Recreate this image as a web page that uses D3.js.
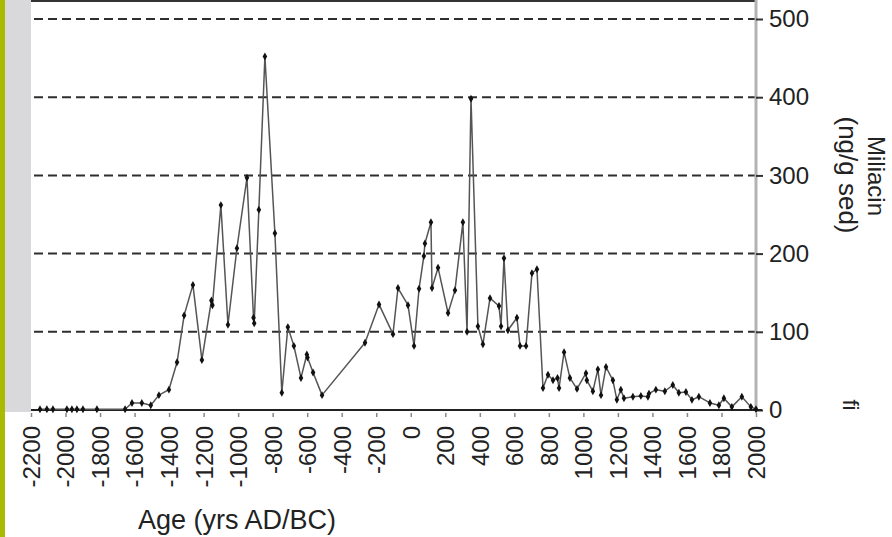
<!DOCTYPE html>
<html>
<head>
<meta charset="utf-8">
<script src="https://cdn.jsdelivr.net/npm/d3@7"></script>
<style>
  body { margin: 0; background: #fff; }
  svg { display: block; font-family: 'Liberation Sans', Arial, sans-serif; }
</style>
</head>
<body>
<div id="chart"></div>
<script>
// Miliacin concentration by age
const years = [
  -2148, -2108, -2073, -1992, -1963, -1934, -1899, -1818, -1655, -1615,
  -1558, -1506, -1459, -1401, -1354, -1313, -1262, -1210, -1155, -1149,
  -1100, -1059, -1007, -949, -911, -907, -880, -845, -787, -747,
  -712, -677, -636, -602, -598, -566, -514, -265, -184, -103,
  -74, -16, 19, 48, 76, 82, 117, 123, 158, 216,
  256, 302, 326, 349, 389, 418, 459, 511, 523, 540,
  563, 615, 633, 668, 702, 731, 766, 795, 824, 850,
  859, 888, 922, 963, 1015, 1020, 1055, 1084, 1102, 1131,
  1171, 1194, 1217, 1235, 1287, 1333, 1374, 1380, 1420, 1472,
  1518, 1553, 1594, 1629, 1669, 1733, 1785, 1814, 1860, 1918,
  1970, 2000
];
const miliacin = [
  1, 1, 1, 1, 1, 1, 1, 1, 1, 9,
  9, 6, 19, 26, 61, 121, 160, 64, 140, 134,
  262, 109, 207, 297, 118, 111, 256, 452, 226, 22,
  106, 82, 41, 71, 67, 48, 19, 86, 135, 97,
  156, 134, 82, 155, 197, 213, 240, 156, 182, 124,
  153, 240, 100, 398, 107, 84, 143, 133, 107, 194,
  102, 118, 82, 82, 175, 180, 28, 45, 38, 41,
  28, 74, 41, 27, 47, 38, 24, 52, 19, 55,
  38, 13, 26, 15, 17, 18, 17, 21, 26, 24,
  32, 22, 23, 13, 17, 9, 6, 15, 4, 17,
  4, 1
];
const xTicks = d3.range(-2200, 2001, 200);
const yTicks = [0, 100, 200, 300, 400, 500];

const W = 892;
const H = 537;
const plot = { l: 31, r: 756, t: 19, b: 410 };

const scaleX = d3.scaleLinear().domain([-2200, 2000]).range([plot.l, plot.r]);
const scaleY = d3.scaleLinear().domain([0, 500]).range([plot.b, plot.t]);

const svg = d3.select('#chart')
  .append('svg')
  .attr('width', W)
  .attr('height', H);

// side strips
svg.append('rect')
  .attr('x', 0).attr('y', 0)
  .attr('width', 5).attr('height', H)
  .attr('fill', '#a9ba00');

svg.append('rect')
  .attr('x', 5).attr('y', 0)
  .attr('width', plot.l - 5).attr('height', plot.b + 2)
  .attr('fill', '#d9d9db');

// top frame
svg.append('line')
  .attr('x1', plot.l).attr('x2', plot.r)
  .attr('y1', 1).attr('y2', 1)
  .attr('stroke', '#333')
  .attr('stroke-width', 2);

// dashed grid lines
svg.append('g')
  .selectAll('line')
  .data(yTicks.filter(d => d > 0))
  .join('line')
  .attr('x1', plot.l + 3)
  .attr('x2', plot.r)
  .attr('y1', d => scaleY(d))
  .attr('y2', d => scaleY(d))
  .attr('stroke', '#2e2e2e')
  .attr('stroke-width', 2)
  .attr('stroke-dasharray', '9,5');

// right axis
const yAxis = d3.axisRight(scaleY)
  .tickValues(yTicks)
  .tickSize(7)
  .tickPadding(6);

const yAxisG = svg.append('g')
  .attr('transform', `translate(${plot.r}, 0)`)
  .call(yAxis);

yAxisG.select('.domain')
  .attr('d', `M0,0V${plot.b}`)
  .attr('stroke', '#b3b3b3')
  .attr('stroke-width', 3);

yAxisG.selectAll('.tick line')
  .attr('stroke', '#333')
  .attr('stroke-width', 2);

yAxisG.selectAll('.tick text')
  .attr('fill', '#222')
  .style('font-size', '24px')
  .style('font-family', "'Liberation Sans', Arial, sans-serif");

// bottom axis
const xAxis = d3.axisBottom(scaleX)
  .tickValues(xTicks)
  .tickSize(6)
  .tickFormat(d3.format('d'));

const xAxisG = svg.append('g')
  .attr('transform', `translate(0, ${plot.b})`)
  .call(xAxis);

xAxisG.select('.domain')
  .attr('d', `M${plot.l},0H${plot.r + 6}`)
  .attr('stroke', '#222')
  .attr('stroke-width', 2);

xAxisG.selectAll('.tick line')
  .attr('y1', 3)
  .attr('y2', 7)
  .attr('stroke', '#888')
  .attr('stroke-width', 1.5);

xAxisG.selectAll('.tick text')
  .attr('fill', '#222')
  .attr('text-anchor', 'end')
  .attr('transform', 'rotate(-90)')
  .attr('x', -16)
  .attr('y', 0)
  .attr('dy', '0.35em')
  .style('font-size', '24px')
  .style('font-family', "'Liberation Sans', Arial, sans-serif")
  .text(d => d3.format('d')(d).replace('\u2212', '-'));

// series
const line = d3.line()
  .x((d, i) => scaleX(years[i]))
  .y(d => scaleY(d));

svg.append('path')
  .datum(miliacin)
  .attr('fill', 'none')
  .attr('stroke', '#555')
  .attr('stroke-width', 1.5)
  .attr('stroke-linejoin', 'round')
  .attr('d', line);

const marker = d3.symbol().type(d3.symbolDiamond).size(18);

svg.append('g')
  .selectAll('path')
  .data(miliacin)
  .join('path')
  .attr('transform', (d, i) => `translate(${scaleX(years[i])}, ${scaleY(d)})`)
  .attr('d', marker)
  .attr('fill', '#111');

// titles
svg.append('text')
  .attr('x', 237)
  .attr('y', 529)
  .attr('text-anchor', 'middle')
  .attr('fill', '#222')
  .style('font-size', '27px')
  .text('Age (yrs AD/BC)');

svg.append('text')
  .attr('transform', 'translate(868, 176) rotate(90)')
  .attr('text-anchor', 'middle')
  .attr('fill', '#222')
  .style('font-size', '24px')
  .text('Miliacin');

svg.append('text')
  .attr('transform', 'translate(839, 175) rotate(90)')
  .attr('text-anchor', 'middle')
  .attr('fill', '#222')
  .style('font-size', '26px')
  .text('(ng/g sed)');

svg.append('text')
  .attr('transform', 'translate(843, 405) rotate(90)')
  .attr('text-anchor', 'middle')
  .attr('fill', '#222')
  .style('font-size', '22px')
  .text('fi');
</script>
</body>
</html>
